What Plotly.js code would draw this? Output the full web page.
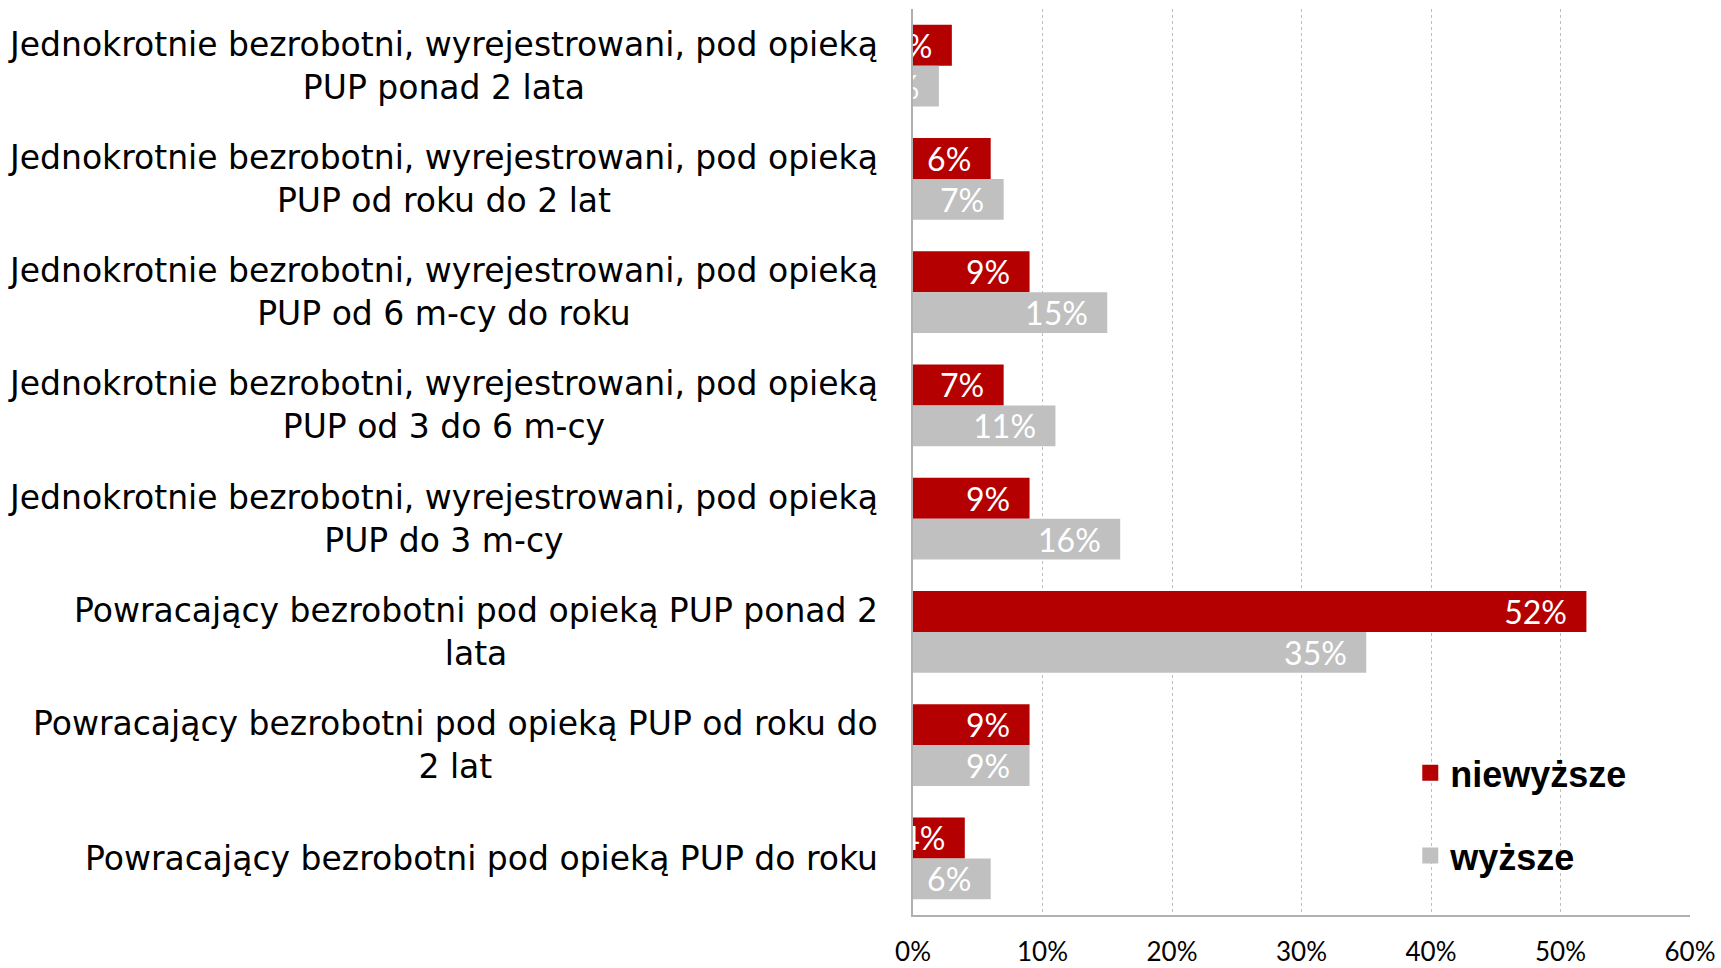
<!DOCTYPE html>
<html>
<head>
<meta charset="utf-8">
<script src="https://cdn.plot.ly/plotly-3.0.1.min.js"></script>
<style>
html,body{margin:0;padding:0;background:#fff;}
#chart{width:1721px;height:968px;}
</style>
</head>
<body>
<div id="chart"></div>
<script>
const categories = [
  "Jednokrotnie bezrobotni, wyrejestrowani, pod opieką<br>PUP ponad 2 lata",
  "Jednokrotnie bezrobotni, wyrejestrowani, pod opieką<br>PUP od roku do 2 lat",
  "Jednokrotnie bezrobotni, wyrejestrowani, pod opieką<br>PUP od 6 m-cy do roku",
  "Jednokrotnie bezrobotni, wyrejestrowani, pod opieką<br>PUP od 3 do 6 m-cy",
  "Jednokrotnie bezrobotni, wyrejestrowani, pod opieką<br>PUP do 3 m-cy",
  "Powracający bezrobotni pod opieką PUP ponad 2<br>lata",
  "Powracający bezrobotni pod opieką PUP od roku do<br>2 lat",
  "Powracający bezrobotni pod opieką PUP do roku"
];
const seriesNames = ["niewyższe", "wyższe"];
const niewyzsze = [3, 6, 9, 7, 9, 52, 9, 4];
const wyzsze = [2, 7, 15, 11, 16, 35, 9, 6];
const xTicks = [0, 10, 20, 30, 40, 50, 60];
const xTickLabels = ["0%", "10%", "20%", "30%", "40%", "50%", "60%"];

const colors = ["#B40000", "#C0C0C0"];
const pad = "\u00a0\u00a0";

function barTrace(name, values, color) {
  return {
    type: "bar",
    orientation: "h",
    name: name,
    showlegend: false,
    x: values,
    y: categories,
    marker: {color: color, line: {width: 0}},
    texttemplate: "%{x}%" + pad,
    textposition: "inside",
    insidetextanchor: "end",
    textangle: 0,
    insidetextfont: {family: "Lato, 'Open Sans', sans-serif", size: 32, color: "#ffffff"},
    hoverinfo: "skip"
  };
}

function legendTrace(name, color, group) {
  return {
    type: "scatter",
    mode: "markers",
    name: name,
    legendgroup: group,
    x: [null],
    y: [null],
    marker: {symbol: "square", size: 19, color: color},
    hoverinfo: "skip"
  };
}

const data = [
  barTrace(seriesNames[0], niewyzsze, colors[0]),
  barTrace(seriesNames[1], wyzsze, colors[1]),
  legendTrace(seriesNames[0], colors[0], "g1"),
  legendTrace(seriesNames[1], colors[1], "g2")
];

const annotations = categories.map(c => ({
  xref: "paper", x: 0, xshift: -33, xanchor: "right",
  yref: "y", y: c, yanchor: "middle",
  text: c, align: "center", showarrow: false,
  font: {family: "'DejaVu Sans', sans-serif", size: 33, color: "#000000"}
}));

const layout = {
  width: 1721, height: 968,
  margin: {l: 913, r: 31, t: 9, b: 53, pad: 0},
  paper_bgcolor: "#ffffff",
  plot_bgcolor: "#ffffff",
  barmode: "group",
  bargap: 0.28,
  bargroupgap: 0,
  uniformtext: {mode: "show", minsize: 32},
  xaxis: {
    range: [0, 60],
    tickvals: xTicks,
    ticktext: xTickLabels,
    showgrid: true,
    gridcolor: "#bdbdbd",
    griddash: "3px,3px",
    gridwidth: 1,
    zeroline: false,
    showline: true,
    linecolor: "#b0b0b0",
    linewidth: 2,
    ticks: "",
    ticklabelstandoff: 13,
    tickfont: {family: "Lato, 'Open Sans', sans-serif", size: 26, color: "#000000"},
    fixedrange: true
  },
  yaxis: {
    type: "category",
    range: [7.5, -0.5],
    showticklabels: false,
    showgrid: false,
    zeroline: false,
    showline: true,
    linecolor: "#b0b0b0",
    linewidth: 2,
    ticks: "",
    fixedrange: true
  },
  showlegend: true,
  legend: {
    x: 0.64, xanchor: "left",
    y: 0.19, yanchor: "top",
    traceorder: "grouped",
    tracegroupgap: 33,
    bgcolor: "rgba(0,0,0,0)",
    font: {family: "'Liberation Sans', Arial, sans-serif", size: 36, color: "#000000", weight: 700}
  },
  annotations: annotations
};

Plotly.newPlot("chart", data, layout, {displayModeBar: false, staticPlot: true});
</script>
</body>
</html>
